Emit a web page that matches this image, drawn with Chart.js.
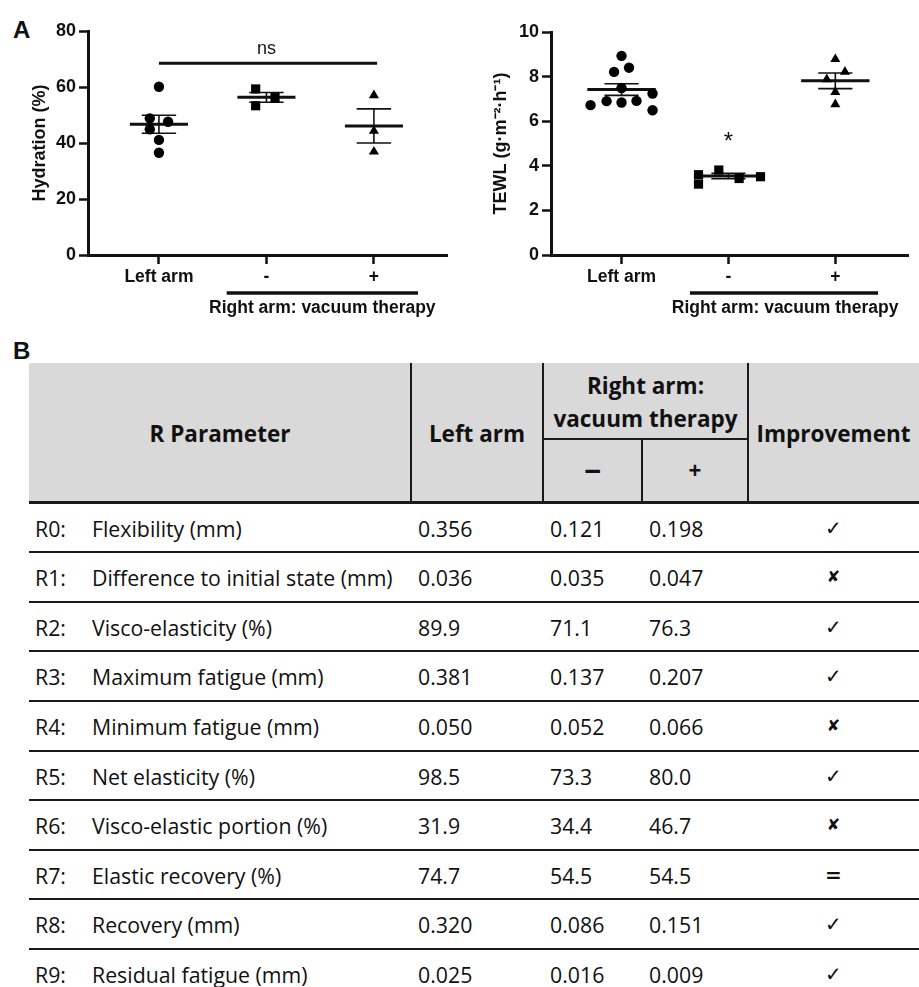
<!DOCTYPE html>
<html>
<head>
<meta charset="utf-8">
<script src="https://cdn.jsdelivr.net/npm/chart.js@4/dist/chart.umd.min.js"></script>
<style>
  html, body { margin: 0; padding: 0; background: #fff; }
  body { width: 919px; height: 987px; overflow: hidden; position: relative; font-family: "Open Sans", "Noto Sans", sans-serif; color: #111; }
  .panel { position: absolute; font-family: "Liberation Sans", Arial, sans-serif; font-weight: bold; font-size: 24px; line-height: 1; }
  .box { position: absolute; }
  .hdr { position: absolute; font-weight: bold; font-size: 22.5px; text-align: center; white-space: nowrap; line-height: 1; }
  .cell { position: absolute; font-size: 21.3px; white-space: nowrap; line-height: 1; }
  .vl { position: absolute; width: 2px; background: #1a1a1a; }
  .hl { position: absolute; height: 2px; background: #1a1a1a; }
  .mark { font-family: "DejaVu Sans", sans-serif; }
</style>
</head>
<body>
<div class="panel" style="left:13px;top:18px;">A</div>
<div class="box" style="left:0;top:0;width:460px;height:330px;"><canvas id="hydration"></canvas></div>
<div class="box" style="left:460px;top:0;width:459px;height:330px;"><canvas id="tewl"></canvas></div>
<div class="panel" style="left:13px;top:339px;">B</div>
<div id="table"></div>

<script>
// ---- panel A data ----
var groups = ['Left arm', '-', '+'];

// hydration (%) per group, with the horizontal spread of the dots
var hydLeftY = [60.1, 48.8, 47.6, 44.9, 41.1, 36.5];
var hydLeftX = [1.0, 0.915, 1.085, 0.915, 1.0, 1.0];
var hydMinusY = [59.3, 53.3, 56.2];
var hydMinusX = [1.9, 1.9, 2.08];
var hydPlusY = [57.0, 44.3, 36.9];
var hydPlusX = [3.0, 3.0, 3.0];
var hydMean = [46.7, 56.3, 46.1];
var hydSem = [3.2, 1.75, 6.1];

// TEWL (g.m-2.h-1)
var tewlLeftY = [8.93, 8.21, 8.40, 7.49, 6.72, 6.90, 6.84, 6.91, 7.24, 6.49];
var tewlLeftX = [1.0, 0.93, 1.07, 1.0, 0.71, 0.86, 1.0, 1.14, 1.29, 1.29];
var tewlMinusY = [3.60, 3.18, 3.81, 3.43, 3.51];
var tewlMinusX = [1.72, 1.72, 1.91, 2.10, 2.30];
var tewlPlusY = [8.78, 8.21, 7.88, 7.31, 6.76];
var tewlPlusX = [3.0, 3.09, 2.92, 3.0, 3.0];
var tewlMean = [7.42, 3.54, 7.81];
var tewlSem = [0.26, 0.12, 0.35];

var hydTicks = [0, 20, 40, 60, 80];
var tewlTicks = [0, 2, 4, 6, 8, 10];

// ---- panel B data ----
var rCodes = ['R0:', 'R1:', 'R2:', 'R3:', 'R4:', 'R5:', 'R6:', 'R7:', 'R8:', 'R9:'];
var rNames = ['Flexibility (mm)', 'Difference to initial state (mm)', 'Visco-elasticity (%)',
  'Maximum fatigue (mm)', 'Minimum fatigue (mm)', 'Net elasticity (%)', 'Visco-elastic portion (%)',
  'Elastic recovery (%)', 'Recovery (mm)', 'Residual fatigue (mm)'];
var leftArm = ['0.356', '0.036', '89.9', '0.381', '0.050', '98.5', '31.9', '74.7', '0.320', '0.025'];
var rightMinus = ['0.121', '0.035', '71.1', '0.137', '0.052', '73.3', '34.4', '54.5', '0.086', '0.016'];
var rightPlus = ['0.198', '0.047', '76.3', '0.207', '0.066', '80.0', '46.7', '54.5', '0.151', '0.009'];
var improvement = ['\u2713', '\u2718', '\u2713', '\u2713', '\u2718', '\u2713', '\u2718', '=', '\u2713', '\u2713'];

Chart.defaults.font.family = '"Liberation Sans", Arial, sans-serif';
Chart.defaults.color = '#111';

function pts(xs, ys) {
  var out = [];
  for (var i = 0; i < ys.length; i++) out.push({x: xs[i], y: ys[i]});
  return out;
}

// mean line + SEM whiskers as gapped line segments (y:null breaks the line)
function meanSegs(mean, hw) {
  var d = [];
  for (var i = 0; i < mean.length; i++) {
    var c = i + 1;
    d.push({x: c - hw, y: mean[i]}, {x: c + hw, y: mean[i]}, {x: c + hw, y: null});
  }
  return d;
}
function semSegs(mean, sem, cw) {
  var d = [];
  for (var i = 0; i < mean.length; i++) {
    var c = i + 1, lo = mean[i] - sem[i], hi = mean[i] + sem[i];
    d.push({x: c, y: lo}, {x: c, y: hi}, {x: c, y: null});
    d.push({x: c - cw, y: hi}, {x: c + cw, y: hi}, {x: c, y: null});
    d.push({x: c - cw, y: lo}, {x: c + cw, y: lo}, {x: c, y: null});
  }
  return d;
}

var annot = {
  id: 'annot',
  afterDraw: function(chart, args, o) {
    var ctx = chart.ctx, x = chart.scales.x, y = chart.scales.y;
    ctx.save();
    ctx.strokeStyle = '#111';
    ctx.lineWidth = 3.5;
    ctx.beginPath();
    ctx.moveTo(x.getPixelForValue(o.groupFrom), o.groupY);
    ctx.lineTo(x.getPixelForValue(o.groupTo), o.groupY);
    ctx.stroke();
    ctx.fillStyle = '#111';
    ctx.textAlign = 'center';
    ctx.textBaseline = 'middle';
    ctx.font = 'bold 17.5px "Liberation Sans", Arial, sans-serif';
    ctx.fillText('Right arm: vacuum therapy', x.getPixelForValue(o.groupMid), o.groupY + 15);
    if (o.note) {
      ctx.font = o.noteFont;
      ctx.fillText(o.note, x.getPixelForValue(o.noteX), y.getPixelForValue(o.noteY));
    }
    ctx.restore();
  }
};

function makeChart(id, points, lines, yMin, yMax, yTicks, yTitle, box, ann) {
  var styles = [['circle', 5.2], ['rect', 6.5], ['triangle', 5.8]];
  var pointSets = points.map(function(d, i) {
    return {type: 'scatter', data: d, pointStyle: styles[i][0], pointRadius: styles[i][1],
      backgroundColor: '#000', borderWidth: 0, showLine: false, clip: false};
  });
  var lineSets = lines.map(function(s) {
    return {type: 'line', data: s.data, borderColor: '#111', borderWidth: s.w, pointRadius: 0,
      spanGaps: false, fill: false, clip: false};
  });
  return new Chart(document.getElementById(id), {
    type: 'scatter',
    data: {datasets: pointSets.concat(lineSets)},
    options: {
      responsive: true,
      maintainAspectRatio: false,
      animation: false,
      layout: {padding: {left: 0, right: box.right, top: box.top, bottom: 0}},
      plugins: {legend: {display: false}, tooltip: {enabled: false}, annot: ann},
      scales: {
        x: {
          type: 'linear', min: 0.34, max: 3.68,
          afterBuildTicks: function(s) { s.ticks = groups.map(function(g, i) { return {value: i + 1}; }); },
          afterFit: function(s) { s.height = box.bottom; },
          ticks: {callback: function(v) { return groups[v - 1]; }, font: {size: 17.5, weight: 'bold'}, color: '#111', padding: 3, maxRotation: 0, autoSkip: false},
          grid: {drawOnChartArea: false, drawTicks: true, tickLength: 9, tickWidth: 2.5, tickColor: '#111'},
          border: {display: true, width: 3, color: '#111'}
        },
        y: {
          type: 'linear', min: yMin, max: yMax,
          afterBuildTicks: function(s) { s.ticks = yTicks.map(function(v) { return {value: v}; }); },
          afterFit: function(s) { s.width = box.left; },
          ticks: {font: {size: 18, weight: 'bold'}, color: '#111', padding: 3, autoSkip: false},
          grid: {drawOnChartArea: false, drawTicks: true, tickLength: 9, tickWidth: 2.5, tickColor: '#111'},
          border: {display: true, width: 3, color: '#111'},
          title: {display: true, text: yTitle, font: {size: 18, weight: 'bold'}, color: '#111', padding: {top: box.titlePad, bottom: 0}}
        }
      }
    },
    plugins: [annot]
  });
}

makeChart('hydration',
  [pts(hydLeftX, hydLeftY), pts(hydMinusX, hydMinusY), pts(hydPlusX, hydPlusY)],
  [{data: meanSegs(hydMean, 0.27), w: 3},
   {data: semSegs(hydMean, hydSem, 0.16), w: 1.6},
   {data: [{x: 1.0, y: 68.5}, {x: 3.03, y: 68.5}], w: 3}],
  0, 80, hydTicks, 'Hydration (%)', {left: 88, right: 13, top: 31, bottom: 75, titlePad: 29},
  {groupFrom: 1.63, groupTo: 3.41, groupMid: 2.52, groupY: 293, note: 'ns', noteX: 2, noteY: 73.6, noteFont: '18px "Liberation Sans", Arial, sans-serif'});

makeChart('tewl',
  [pts(tewlLeftX, tewlLeftY), pts(tewlMinusX, tewlMinusY), pts(tewlPlusX, tewlPlusY)],
  [{data: meanSegs(tewlMean, 0.32), w: 3},
   {data: semSegs(tewlMean, tewlSem, 0.16), w: 1.6}],
  0, 10, tewlTicks, 'TEWL (g\u00b7m\u207b\u00b2\u00b7h\u207b\u00b9)', {left: 91, right: 11, top: 32, bottom: 75, titlePad: 30},
  {groupFrom: 1.64, groupTo: 3.40, groupMid: 2.53, groupY: 293, note: '*', noteX: 2, noteY: 5.05, noteFont: '24px "Liberation Sans", Arial, sans-serif'});

// ---- panel B table ----
(function() {
  var t = document.getElementById('table');
  var html = '';
  html += '<div class="box" style="left:29px;top:363px;width:890px;height:139px;background:#d9d9d9;"></div>';
  html += '<div class="vl" style="left:410px;top:363px;height:139px;"></div>';
  html += '<div class="vl" style="left:542px;top:363px;height:139px;"></div>';
  html += '<div class="vl" style="left:641px;top:439px;height:63px;"></div>';
  html += '<div class="vl" style="left:747px;top:363px;height:139px;"></div>';
  html += '<div class="hl" style="left:543px;top:438px;width:205px;"></div>';
  html += '<div class="hl" style="left:29px;top:501px;width:890px;height:3px;"></div>';
  function hdr(text, l, w, cy, extra) {
    html += '<div class="hdr" style="left:' + l + 'px;width:' + w + 'px;top:' + (cy - 12) + 'px;' + (extra || '') + '">' + text + '</div>';
  }
  hdr('R Parameter', 29, 382, 435);
  hdr('Left arm', 411, 132, 435);
  hdr('Right arm:', 543, 205, 387);
  hdr('vacuum therapy', 543, 205, 420);
  hdr('\u2212', 543, 99, 468, 'font-size:30px;');
  hdr('+', 642, 106, 472);
  hdr('Improvement', 748, 171, 435);

  var rowH = 49.6, top0 = 503;
  for (var i = 0; i < rCodes.length; i++) {
    var cy = top0 + i * rowH + 25.5;
    var ty = cy - 11;
    html += '<div class="cell" style="left:35px;top:' + ty + 'px;">' + rCodes[i] + '</div>';
    html += '<div class="cell" style="left:92px;top:' + ty + 'px;">' + rNames[i] + '</div>';
    html += '<div class="cell" style="left:418px;top:' + ty + 'px;">' + leftArm[i] + '</div>';
    html += '<div class="cell" style="left:550px;top:' + ty + 'px;">' + rightMinus[i] + '</div>';
    html += '<div class="cell" style="left:649px;top:' + ty + 'px;">' + rightPlus[i] + '</div>';
    var mk = improvement[i];
    var fs = mk === '=' ? 'font-weight:bold;font-size:20px;' : (mk === '\u2713' ? 'font-size:20px;' : 'font-size:16px;');
    html += '<div class="cell mark" style="left:748px;width:171px;text-align:center;top:' + (ty + (mk === '\u2718' ? 2 : 0)) + 'px;' + fs + '">' + mk + '</div>';
    if (i < rCodes.length - 1) {
      html += '<div class="hl" style="left:29px;top:' + (top0 + (i + 1) * rowH - 1.5) + 'px;width:890px;"></div>';
    }
  }
  t.innerHTML = html;
})();
</script>
</body>
</html>
